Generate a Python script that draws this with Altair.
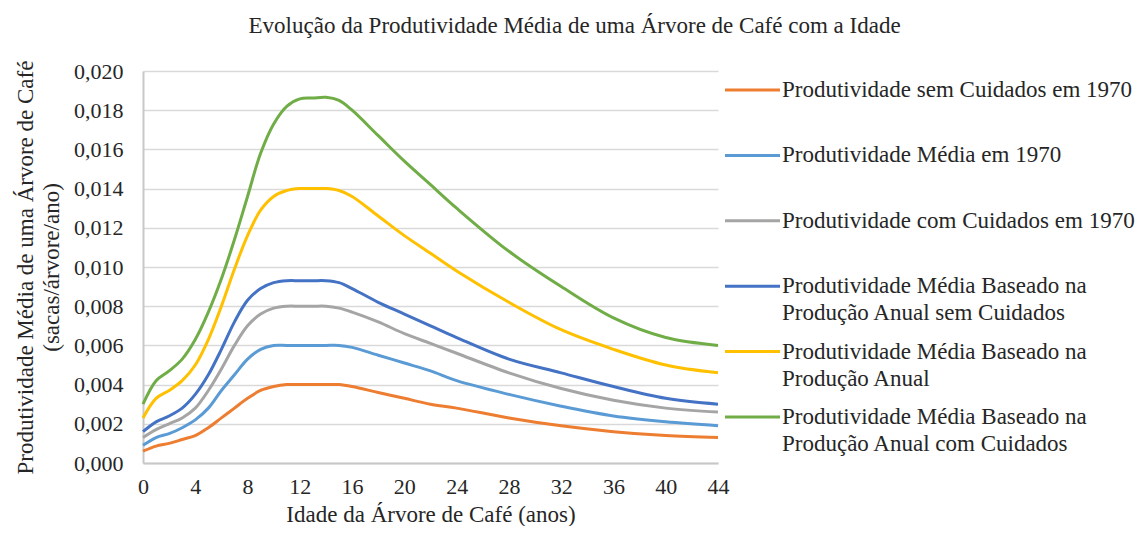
import altair as alt
import pandas as pd

FONT = "'Liberation Serif', 'Times New Roman', Times, serif"
TXT = "#262626"

ages = [0, 1, 2, 3, 4, 5, 6, 7, 8, 9, 10, 11, 12, 13, 14, 15, 16, 18, 20, 22, 24, 28, 32, 36, 40, 44]

series_names = [
    "Produtividade sem Cuidados em 1970",
    "Produtividade Média em 1970",
    "Produtividade com Cuidados em 1970",
    "Produtividade Média Baseado na Produção Anual sem Cuidados",
    "Produtividade Média Baseado na Produção Anual",
    "Produtividade Média Baseado na Produção Anual com Cuidados",
]
legend_line1 = [
    "Produtividade sem Cuidados em 1970",
    "Produtividade Média em 1970",
    "Produtividade com Cuidados em 1970",
    "Produtividade Média Baseado na",
    "Produtividade Média Baseado na",
    "Produtividade Média Baseado na",
]
legend_line2 = ["", "", "", "Produção Anual sem Cuidados", "Produção Anual", "Produção Anual com Cuidados"]
colors = ["#ED7D31", "#5B9BD5", "#A5A5A5", "#4472C4", "#FFC000", "#70AD47"]

sem_cuidados_1970 = [0.0006, 0.00086, 0.0010, 0.0012, 0.0014, 0.0018, 0.0023, 0.0028, 0.0033, 0.0037,
                     0.0039, 0.0040, 0.0040, 0.0040, 0.0040, 0.0040, 0.0039, 0.0036, 0.0033, 0.0030,
                     0.0028, 0.0023, 0.0019, 0.0016, 0.0014, 0.0013]
media_1970 = [0.0009, 0.0013, 0.0015, 0.0018, 0.0022, 0.0028, 0.0037, 0.0045, 0.0053, 0.0058,
              0.0060, 0.0060, 0.0060, 0.0060, 0.0060, 0.0060, 0.0059, 0.0055, 0.0051, 0.0047,
              0.0042, 0.0035, 0.0029, 0.0024, 0.0021, 0.0019]
com_cuidados_1970 = [0.0013, 0.0017, 0.0020, 0.0023, 0.0028, 0.0037, 0.0048, 0.0060, 0.0070, 0.0076,
                     0.0079, 0.0080, 0.0080, 0.0080, 0.0080, 0.0079, 0.0077, 0.0072, 0.0066, 0.0061,
                     0.0056, 0.0046, 0.0038, 0.0032, 0.0028, 0.0026]
anual_sem_cuidados = [0.0016, 0.0021, 0.0024, 0.0028, 0.0035, 0.0045, 0.0058, 0.0072, 0.0083, 0.0089,
                      0.0092, 0.0093, 0.0093, 0.0093, 0.0093, 0.0092, 0.0089, 0.0082, 0.0076, 0.0070,
                      0.0064, 0.0053, 0.0046, 0.0039, 0.0033, 0.0030]
anual = [0.0023, 0.0033, 0.0037, 0.0042, 0.0050, 0.0063, 0.0080, 0.0099, 0.0116, 0.0129,
         0.0136, 0.0139, 0.0140, 0.0140, 0.0140, 0.0139, 0.0136, 0.0126, 0.0116, 0.0107,
         0.0098, 0.0082, 0.0068, 0.0058, 0.0050, 0.0046]
anual_com_cuidados = [0.0030, 0.0042, 0.0047, 0.0053, 0.0063, 0.0077, 0.0094, 0.0114, 0.0136, 0.0158,
                      0.0173, 0.0182, 0.01858, 0.01862, 0.01866, 0.0185, 0.0180, 0.0167, 0.0154, 0.0142,
                      0.0130, 0.0108, 0.0090, 0.0074, 0.0064, 0.0060]

all_series = [sem_cuidados_1970, media_1970, com_cuidados_1970, anual_sem_cuidados, anual, anual_com_cuidados]

x_ticks = [0, 4, 8, 12, 16, 20, 24, 28, 32, 36, 40, 44]
y_ticks = [0.0, 0.002, 0.004, 0.006, 0.008, 0.010, 0.012, 0.014, 0.016, 0.018, 0.020]

rows = []
for name, vals in zip(series_names, all_series):
    for a, v in zip(ages, vals):
        rows.append({"idade": a, "serie": name, "valor": v})
df = pd.DataFrame(rows)

color_scale = alt.Scale(domain=series_names, range=colors)

lines = alt.Chart(df).mark_line(interpolate="catmull-rom", strokeWidth=3).encode(
    x=alt.X("idade:Q",
            scale=alt.Scale(domain=[0, 44], nice=False),
            axis=alt.Axis(values=x_ticks, title="Idade da Árvore de Café (anos)", grid=False,
                          ticks=False, labelPadding=13, titlePadding=6, labelFlush=False,
                          labelFontSize=22, titleFontSize=23)),
    y=alt.Y("valor:Q",
            scale=alt.Scale(domain=[0, 0.02], nice=False),
            axis=alt.Axis(values=y_ticks,
                          labelExpr="replace(format(datum.value, '.3f'), '.', ',')",
                          title=["Produtividade Média de uma Árvore de Café", "(sacas/árvore/ano)"],
                          ticks=False, labelPadding=20, titlePadding=10, grid=True,
                          labelFontSize=22, titleFontSize=23, titleLineHeight=26)),
    color=alt.Color("serie:N", scale=color_scale, legend=None),
).properties(width=575, height=392)

leg_df = pd.DataFrame({"serie": series_names, "l1": legend_line1, "l2": legend_line2})
ybase = alt.Y("serie:N", sort=series_names, scale=alt.Scale(type="point", padding=0.29), axis=None)

sym = alt.Chart(leg_df).mark_rule(strokeWidth=3).encode(
    x=alt.value(2), x2=alt.value(57), y=ybase,
    color=alt.Color("serie:N", scale=color_scale, legend=None),
)
t1 = alt.Chart(leg_df).mark_text(align="left", baseline="middle", font=FONT, fontSize=23, color=TXT).encode(
    x=alt.value(59), y=ybase, text="l1:N")
t2 = alt.Chart(leg_df).mark_text(align="left", baseline="middle", font=FONT, fontSize=23, color=TXT, dy=27).encode(
    x=alt.value(59), y=ybase, text="l2:N")
legend_panel = alt.layer(sym, t1, t2).properties(width=405, height=365)

chart = alt.hconcat(lines, legend_panel, spacing=5, bounds="flush").properties(
    title=alt.Title(text="Evolução da Produtividade Média de uma Árvore de Café com a Idade",
                    font=FONT, fontSize=23, fontWeight="normal", color=TXT, anchor="middle", offset=22),
    padding={"left": 6, "right": 0, "top": 7, "bottom": 0},
).configure_view(strokeWidth=0).configure_axis(
    labelFont=FONT, titleFont=FONT, labelColor=TXT, titleColor=TXT,
    titleFontWeight="normal", gridColor="#D9D9D9", gridWidth=1.5,
    domainColor="#C8C8C8", domainWidth=2,
)

chart.save("out.html", embed_options={"renderer": "svg", "actions": False})
